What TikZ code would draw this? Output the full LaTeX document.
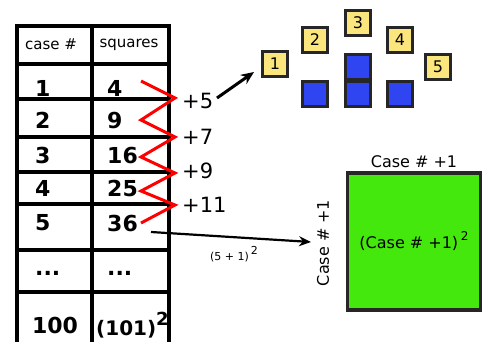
\documentclass[tikz,border=0pt]{standalone}
\usepackage{fontspec}
\setmainfont{DejaVu Sans}
\usetikzlibrary{positioning,arrows.meta}

\definecolor{boxyellow}{HTML}{FBE67D}
\definecolor{dotblue}{HTML}{2F45F2}
\definecolor{squaregreen}{HTML}{45E80C}

\begin{document}
\begin{tikzpicture}[x=1pt, y=-1pt,
    grid/.style={line width=3.2pt, line cap=rect},
    num/.style={font=\bfseries\fontsize{22}{24}\selectfont, inner sep=1pt},
    head/.style={font=\fontsize{15}{17}\selectfont},
    diff/.style={font=\fontsize{21}{23}\selectfont, inner sep=1pt},
    zig/.style={red, line width=3pt},
    pointer/.style={-{Stealth[length=13pt, width=11pt]}, line width=3pt},
    ybox/.style={draw=black!85, line width=3.5pt, fill=boxyellow, minimum size=25pt,
        inner sep=0pt, font=\fontsize{16}{18}\selectfont},
    bsq/.style={draw=black!85, line width=3.5pt, fill=dotblue, minimum size=25pt, inner sep=0pt},
]
    \useasboundingbox (0,0) rectangle (485,341);

    % table
    \foreach \y in {26,64,99,137,172,204,250,292}
        \draw[grid] (17,\y) -- (169,\y);
    \foreach \x in {17,92,169}
        \draw[grid] (\x,26) -- (\x,341);

    \node[head] (hcase) at (51,44) {case \#};
    \node[head] (hsq) at (129,45) {squares};
    \foreach \n/\sq/\y in {1/4/88, 2/9/120, 3/16/155, 4/25/188, 5/36/223} {
        \node[num, anchor=west] (c\n) at (34,\y) {\n};
        \node[num, anchor=west] (s\n) at (106,\y) {\sq};
    }
    \node[num, anchor=west] (cdots) at (34,273) {...};
    \node[num, anchor=west] (sdots) at (106,273) {...};
    \node[num] (c100) at (55,325) {100};
    \node[num, anchor=west, font=\bfseries\fontsize{20}{22}\selectfont] (s100) at (95,325)
        {(101)\raisebox{10pt}{\fontsize{18}{20}\selectfont 2}};

    % differences
    \draw[zig] (141,81) -- (175,98) -- (141,120) -- (175,137) -- (141,157)
        -- (175,173) -- (141,191) -- (175,205) -- (141,223);
    \node[diff, anchor=west] (d5) at (181,101) {+5};
    \node[diff, anchor=west] (d7) at (181,137) {+7};
    \node[diff, anchor=west] (d9) at (181,171) {+9};
    \node[diff, anchor=west] (d11) at (181,205) {+11};

    % growing squares
    \node[ybox] (k1) at (275,64) {1};
    \node[ybox] (k2) at (315,40) {2};
    \node[ybox] (k3) at (358,23) {3};
    \node[ybox] (k4) at (400,40) {4};
    \node[ybox] (k5) at (438,67) {5};
    \node[bsq] (b2) at (315,94) {};
    \node[bsq] (b3a) at (358,94) {};
    \node[bsq] (b3b) at (358,67) {};
    \node[bsq] (b4) at (400,94) {};

    \coordinate (a1) at (217,98);
    \coordinate (a2) at (254,72);
    \draw[pointer] (a1) -- (a2);

    % general square
    \node[draw=black!85, line width=3.5pt, fill=squaregreen, minimum width=133pt,
        minimum height=137pt, font=\fontsize{16}{18}\selectfont] (sq) at (414,241.5)
        {(Case \# +1)\raisebox{8pt}{\,\fontsize{12}{14}\selectfont 2}};
    \node[above=0pt of sq, font=\fontsize{16}{18}\selectfont] (top) {Case \# +1};
    \node[rotate=90, font=\fontsize{16}{18}\selectfont] (side) at (323,243) {Case \# +1};

    \coordinate (b1) at (151,232);
    \coordinate (b2) at (311,242);
    \draw[-{Stealth[length=12pt, width=10pt]}, line width=2.2pt] (b1) -- (b2);
    \node[font=\fontsize{11}{13}\selectfont] (gen) at (234,254) {(5 + 1)\raisebox{6pt}{\,2}};
\end{tikzpicture}
\end{document}
